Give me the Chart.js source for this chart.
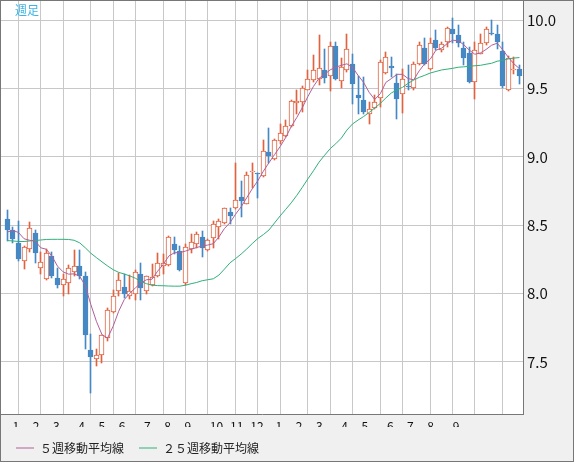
<!DOCTYPE html>
<html><head><meta charset="utf-8">
<script src="https://cdn.jsdelivr.net/npm/chart.js@4/dist/chart.umd.min.js"></script>
<style>
html,body{margin:0;padding:0;background:#f0f0f0;}
#wrap{position:relative;width:574px;height:462px;box-sizing:border-box;border:1px solid #777;background:#f0f0f0;}
canvas{display:block;}
</style></head><body>
<div id="wrap"><canvas id="c" width="572" height="460"></canvas></div>
<script>
const chartTitle = '週足';
const monthLabels = ['1','2','3','4','5','6','7','8','9','10','11','12','1','2','3','4','5','6','7','8','9'];
const monthStartWeek = [2,6,10,15,19,23,28,32,36,41,45,49,54,58,62,67,71,76,80,84,89];
const yTicks = [7.5, 8.0, 8.5, 9.0, 9.5, 10.0];

const open  = [8.544,8.466,8.368,8.238,8.328,8.446,8.189,8.108,8.275,8.113,8.066,8.074,8.157,8.201,8.127,7.588,7.522,7.552,7.674,7.865,8.017,8.046,7.980,7.997,8.144,8.022,8.066,8.127,8.201,8.206,8.365,8.311,8.074,8.324,8.360,8.414,8.316,8.409,8.488,8.519,8.598,8.629,8.708,8.654,8.890,8.885,8.863,9.034,8.985,9.115,9.157,9.230,9.394,9.401,9.487,9.561,9.574,9.635,9.590,9.811,9.556,9.640,9.679,9.451,9.419,9.311,9.360,9.434,9.618,9.664,9.541,9.463,9.517,9.507,9.684,9.799,9.647,9.855,9.782,9.843,9.936,9.892,9.801,9.762,9.549,9.757,9.831,9.909,9.904,9.776,9.487,9.635,9.647];
const high  = [8.610,8.490,8.532,8.345,8.524,8.466,8.304,8.324,8.306,8.189,8.140,8.206,8.319,8.316,8.159,7.706,7.596,7.700,7.895,8.029,8.147,8.140,8.135,8.169,8.225,8.127,8.213,8.294,8.287,8.421,8.414,8.348,8.365,8.434,8.451,8.458,8.397,8.532,8.544,8.627,8.629,8.953,8.826,8.887,8.953,8.885,9.125,9.210,9.130,9.238,9.272,9.419,9.487,9.517,9.635,9.745,9.892,9.787,9.843,9.843,9.721,9.899,9.752,9.590,9.585,9.401,9.451,9.708,9.769,9.732,9.610,9.647,9.671,9.696,9.843,9.868,9.868,9.929,9.843,9.949,10.015,9.965,9.843,9.806,9.843,9.904,9.953,10.002,9.965,9.843,9.740,9.732,9.671];
const low   = [8.385,8.368,8.235,8.177,8.306,8.225,8.140,8.098,8.115,8.039,7.985,7.998,8.128,8.110,7.596,7.270,7.466,7.490,7.655,7.858,7.985,7.968,7.958,7.951,7.956,7.993,8.054,8.120,8.140,8.201,8.291,8.164,8.066,8.299,8.335,8.269,8.310,8.335,8.397,8.507,8.507,8.618,8.563,8.654,8.776,8.703,8.855,8.953,8.978,9.096,9.144,9.218,9.316,9.328,9.487,9.549,9.524,9.541,9.482,9.561,9.507,9.622,9.390,9.316,9.316,9.243,9.350,9.365,9.610,9.585,9.279,9.321,9.487,9.487,9.671,9.671,9.640,9.782,9.769,9.806,9.831,9.806,9.671,9.545,9.426,9.752,9.818,9.892,9.794,9.507,9.482,9.605,9.537];
const close = [8.466,8.402,8.255,8.341,8.478,8.299,8.230,8.299,8.128,8.059,8.108,8.189,8.201,8.132,7.699,7.532,7.552,7.699,7.882,7.985,8.096,7.997,8.017,8.157,8.041,8.127,8.120,8.221,8.221,8.414,8.316,8.176,8.340,8.377,8.434,8.335,8.390,8.507,8.532,8.625,8.568,8.684,8.674,8.870,8.900,8.879,9.046,9.004,9.125,9.179,9.230,9.409,9.409,9.507,9.574,9.640,9.654,9.581,9.811,9.574,9.659,9.794,9.537,9.434,9.328,9.353,9.401,9.696,9.732,9.654,9.426,9.574,9.512,9.679,9.818,9.684,9.835,9.801,9.824,9.941,9.904,9.831,9.721,9.549,9.782,9.831,9.934,9.899,9.843,9.517,9.728,9.647,9.590];
const ma5   = [8.451,8.462,8.447,8.401,8.390,8.385,8.335,8.324,8.274,8.201,8.159,8.142,8.144,8.127,8.057,7.919,7.796,7.699,7.674,7.760,7.870,7.956,8.002,8.041,8.078,8.101,8.105,8.164,8.213,8.274,8.299,8.300,8.311,8.324,8.337,8.348,8.355,8.365,8.414,8.476,8.519,8.581,8.635,8.701,8.767,8.826,8.896,8.958,9.017,9.076,9.142,9.223,9.289,9.362,9.443,9.517,9.576,9.605,9.638,9.657,9.671,9.682,9.657,9.598,9.546,9.473,9.421,9.463,9.546,9.574,9.605,9.605,9.574,9.565,9.631,9.684,9.717,9.782,9.796,9.829,9.855,9.851,9.822,9.782,9.752,9.762,9.787,9.818,9.833,9.785,9.730,9.682,9.647];
const ma25  = [8.388,8.385,8.381,8.381,8.385,8.388,8.392,8.396,8.397,8.397,8.397,8.396,8.390,8.371,8.335,8.295,8.263,8.232,8.202,8.175,8.155,8.143,8.129,8.112,8.088,8.072,8.061,8.058,8.057,8.055,8.054,8.054,8.061,8.072,8.081,8.094,8.101,8.108,8.135,8.179,8.225,8.256,8.289,8.326,8.366,8.403,8.432,8.465,8.517,8.568,8.616,8.664,8.719,8.778,8.840,8.899,8.962,9.013,9.061,9.097,9.138,9.197,9.241,9.270,9.296,9.326,9.359,9.392,9.432,9.469,9.491,9.510,9.539,9.563,9.583,9.598,9.615,9.626,9.637,9.643,9.649,9.657,9.660,9.664,9.668,9.671,9.679,9.686,9.701,9.708,9.718,9.724,9.728];

const UP = '#e0623f', DOWN = '#4688c4', MA5C = '#b0609a', MA25C = '#30b07a';
const GRID = '#c8c8c8', FRAME = '#777';
const BODY_W = 5;
const weeks = open.map((_, i) => i);
const isUp = weeks.map(i => close[i] >= open[i]);

const bgPlugin = {
  id: 'plotBg',
  beforeDraw(chart) {
    const a = chart.chartArea, c = chart.ctx;
    c.save(); c.fillStyle = '#fff'; c.fillRect(a.left, a.top, a.right - a.left, a.bottom - a.top); c.restore();
  },
  afterDraw(chart) {
    const a = chart.chartArea, c = chart.ctx;
    c.save(); c.fillStyle = '#3cb4e6'; c.font = '12px "Noto Sans CJK JP"';
    c.textBaseline = 'middle'; c.textAlign = 'left';
    c.fillText(chartTitle, a.left + 14, a.top + 9.5); c.restore();
  }
};
const snapPlugin = {
  id: 'pixelSnap',
  afterDatasetsUpdate(chart) {
    chart.data.datasets.forEach((ds, di) => {
      const meta = chart.getDatasetMeta(di);
      if (meta.type !== 'bar') return;
      meta.data.forEach(el => {
        const left = Math.round(el.x - BODY_W / 2);
        el.x = left + BODY_W / 2;
        let y = Math.round(el.y), b = Math.round(el.base);
        if (y === b) b = y + 1;
        el.y = y; el.base = b; el.height = b - y;
      });
    });
  }
};
const noPad = s => { s.paddingTop = 0; s.paddingBottom = 0; s.paddingLeft = 0; s.paddingRight = 0; };

new Chart(document.getElementById('c'), {
  type: 'bar',
  data: {
    datasets: [
      { type: 'line', label: '５週移動平均線', data: weeks.map(i => ({x: i, y: ma5[i]})),
        borderColor: MA5C, backgroundColor: MA5C, borderWidth: 1, pointRadius: 0, tension: 0, order: 0 },
      { type: 'line', label: '２５週移動平均線', data: weeks.map(i => ({x: i, y: ma25[i]})),
        borderColor: MA25C, backgroundColor: MA25C, borderWidth: 1, pointRadius: 0, tension: 0, order: 1 },
      { label: 'body', data: weeks.map(i => ({x: i, y: [open[i], close[i]]})),
        backgroundColor: weeks.map(i => isUp[i] ? '#ffffff' : DOWN),
        borderColor: weeks.map(i => isUp[i] ? UP : DOWN),
        borderWidth: 1, borderSkipped: false, barThickness: BODY_W, grouped: false, order: 2 },
      { label: 'wick', data: weeks.map(i => ({x: i, y: [low[i], high[i]]})),
        backgroundColor: weeks.map(i => isUp[i] ? UP : DOWN),
        borderWidth: 0, barThickness: 1, grouped: false, order: 3 }
    ]
  },
  options: {
    responsive: false, animation: false, devicePixelRatio: 1,
    layout: { padding: { left: 0, right: 0, top: 0, bottom: -3 } },
    scales: {
      x: { type: 'linear', position: 'bottom', min: -1.144, max: 92.64, offset: false,
        afterBuildTicks: s => { s.ticks = monthStartWeek.map(v => ({value: v})); },
        ticks: { display: false },
        grid: { color: GRID, drawTicks: false, offset: false },
        border: { display: true, color: FRAME },
        afterFit: s => { s.height = 0; noPad(s); } },
      xl: { type: 'linear', position: 'bottom', min: -0.257, max: 102.9, offset: false,
        afterBuildTicks: s => { s.ticks = monthStartWeek.map(v => ({value: v})); },
        ticks: { autoSkip: false, maxRotation: 0, align: 'start', padding: 5, color: '#111',
          font: { family: '"Noto Sans CJK JP"', size: 12 },
          callback: (v, idx) => monthLabels[idx] },
        grid: { display: false, drawTicks: false },
        border: { display: false },
        afterFit: s => { s.height = 13; noPad(s); } },
      y: { type: 'linear', position: 'right', min: 7.118, max: 10.142, beginAtZero: false,
        afterBuildTicks: s => { s.ticks = yTicks.map(v => ({value: v})); },
        ticks: { padding: 4, color: '#111', font: { family: '"Noto Sans CJK JP"', size: 15 },
          callback: v => Number(v).toFixed(1) },
        grid: { color: GRID, drawTicks: false },
        border: { display: true, color: FRAME },
        afterFit: s => { s.width = 50; noPad(s); } }
    },
    plugins: {
      legend: { position: 'bottom', align: 'start',
        labels: { filter: item => item.datasetIndex < 2, usePointStyle: true, pointStyle: 'line',
          pointStyleWidth: 18, padding: 15, color: '#222',
          font: { family: '"Noto Sans CJK JP"', size: 12 } } },
      tooltip: { enabled: false },
      title: { display: false }
    }
  },
  plugins: [bgPlugin, snapPlugin]
});
</script>
</body></html>
